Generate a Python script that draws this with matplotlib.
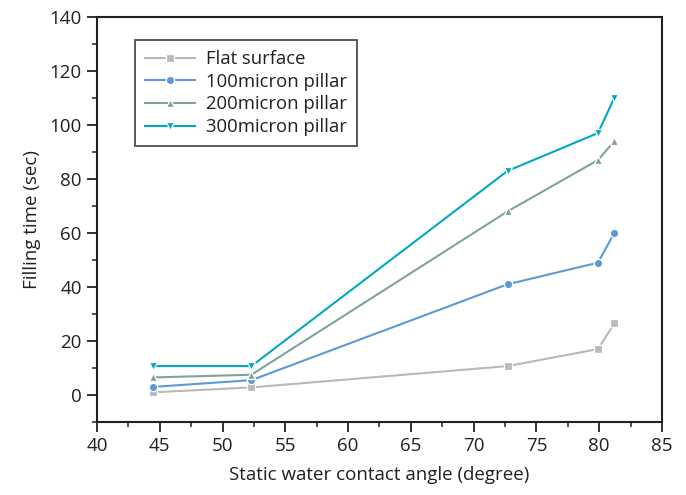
import numpy as np
import matplotlib.pyplot as plt
from matplotlib.ticker import MultipleLocator

plt.rcParams['font.family'] = ['Open Sans', 'DejaVu Sans']

# contact angle (degree) and filling times (sec)
angle = [44.5, 52.3, 72.7, 79.9, 81.2]
flat = [1.0, 2.8, 10.7, 17.0, 26.5]
p100 = [3.0, 5.5, 41.0, 49.0, 60.0]
p200 = [6.5, 7.5, 68.0, 87.0, 94.0]
p300 = [10.7, 10.7, 83.0, 97.0, 110.0]

series = [
    ("Flat surface", flat, "#b5babc", "s"),
    ("100micron pillar", p100, "#5b9bd5", "o"),
    ("200micron pillar", p200, "#7fa39a", "^"),
    ("300micron pillar", p300, "#00a9c1", "v"),
]

fig = plt.figure(figsize=(6.86, 4.95), dpi=100)
ax = fig.add_axes([0.1414, 0.1475, 0.8236, 0.8182])

for name, vals, col, mk in series:
    ax.plot(angle, vals, color=col, marker=mk, markersize=6, lw=1.5,
            markeredgecolor="white", markeredgewidth=0.9, label=name)

ax.set_xlim(40, 85)
ax.set_ylim(-10, 140)
ax.xaxis.set_major_locator(MultipleLocator(5))
ax.xaxis.set_minor_locator(MultipleLocator(2.5))
ax.yaxis.set_major_locator(MultipleLocator(20))
ax.yaxis.set_minor_locator(MultipleLocator(10))
ax.tick_params(which="major", length=7, width=1.3, labelsize=13.5, direction="out",
               pad=4, colors="#231f20")
ax.tick_params(which="minor", length=3.5, width=1.1, direction="out", colors="#231f20")
for s in ax.spines.values():
    s.set_linewidth(1.5)
    s.set_color("#231f20")

ax.set_xlabel("Static water contact angle (degree)", fontsize=13.5, labelpad=8,
              color="#231f20")
ax.set_ylabel("Filling time (sec)", fontsize=13.5, labelpad=6, color="#231f20")

leg = ax.legend(loc="upper left", bbox_to_anchor=(0.067, 0.943), borderaxespad=0,
                fontsize=13.3, frameon=True, fancybox=False, edgecolor="#231f20",
                handlelength=2.7, handletextpad=0.6, labelspacing=0.25,
                borderpad=0.55)
leg.get_frame().set_linewidth(1.3)
for t in leg.get_texts():
    t.set_color("#231f20")

plt.savefig("out.png", dpi=100)
